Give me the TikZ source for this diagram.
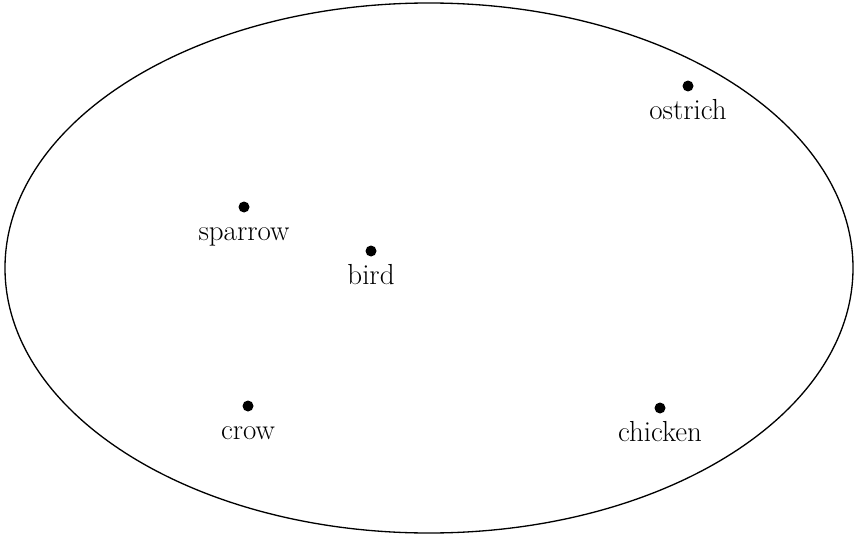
\documentclass[tikz,border=0pt]{standalone}
\usetikzlibrary{positioning}

\tikzset{
    birddot/.style={circle, fill=black, inner sep=0pt, minimum size=0.22cm},
    birdname/.style={font=\fontsize{16.5}{19}\selectfont, inner sep=0pt, anchor=base},
}

\begin{document}
\begin{tikzpicture}[x=0.02cm, y=-0.02cm, node distance=0.56cm]
    \useasboundingbox (0,0) rectangle (855,537);

    \draw[line width=0.75pt] (429,268) ellipse [x radius=424, y radius=265];

    % the members, each with its name just below
    \node[birddot] (ostrich) at (688,86) {};
    \node[birddot] (sparrow) at (244,207) {};
    \node[birddot] (bird)    at (371,251) {};
    \node[birddot] (crow)    at (248,406) {};
    \node[birddot] (chicken) at (660,408) {};

    \node[below=of ostrich, birdname] (ostrichname) {ostrich};
    \node[below=of sparrow, birdname] (sparrowname) {sparrow};
    \node[below=of bird, birdname]    (birdname)    {bird};
    \node[below=of crow, birdname]    (crowname)    {crow};
    \node[below=of chicken, birdname] (chickenname) {chicken};
\end{tikzpicture}
\end{document}
